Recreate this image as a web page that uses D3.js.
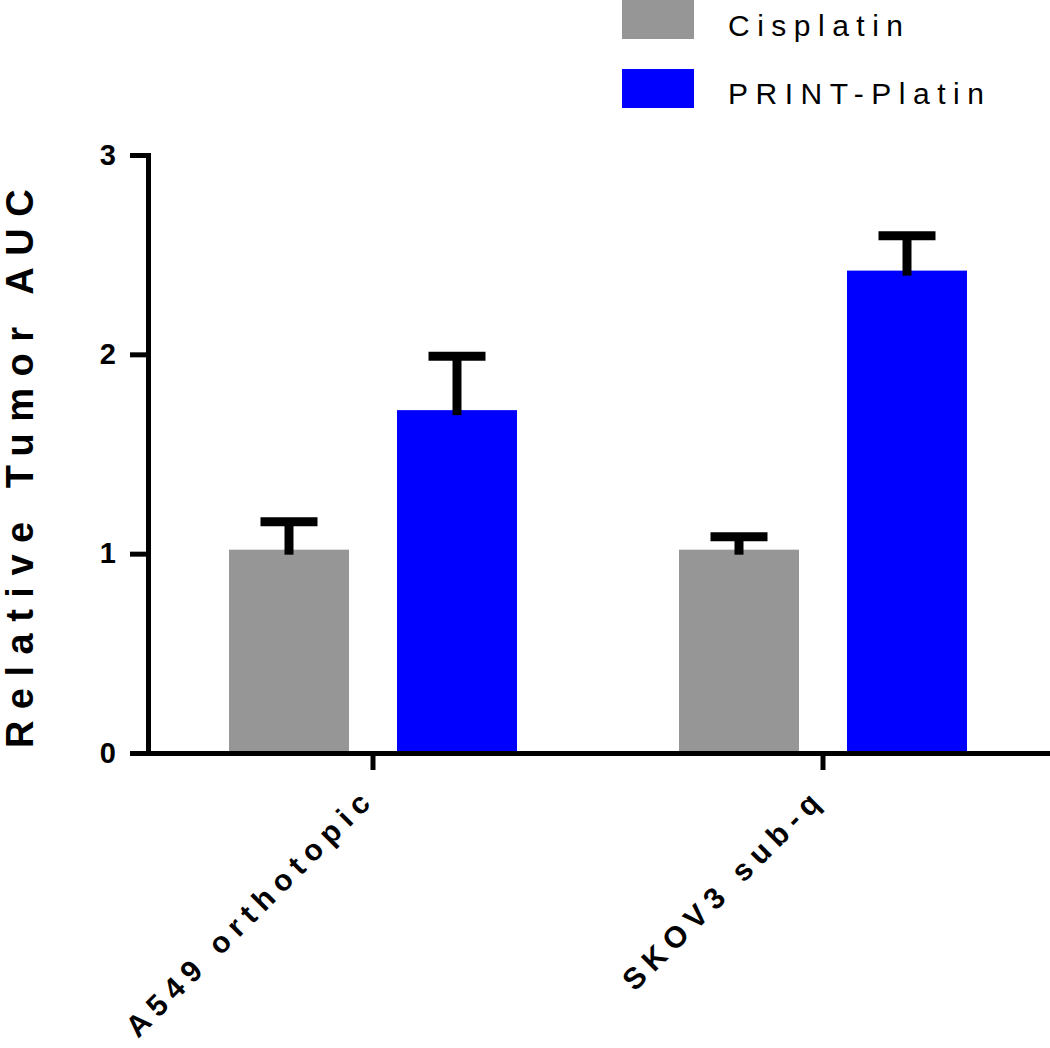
<!DOCTYPE html>
<html>
<head>
<meta charset="utf-8">
<script src="https://d3js.org/d3.v7.min.js"></script>
<style>
  body { margin: 0; background: #fff; }
  svg { font-family: "Liberation Sans", Arial, sans-serif; }
</style>
</head>
<body>
<svg id="chart" width="1050" height="1048"></svg>
<script>
// data
const categories = ["A549 orthotopic", "SKOV3 sub-q"];
const seriesNames = ["Cisplatin", "PRINT-Platin"];
const cisplatinMean = [1.02, 1.02];
const cisplatinErr = [0.14, 0.065];
const printMean = [1.72, 2.42];
const printErr = [0.27, 0.175];
const yTicks = [0, 1, 2, 3];

const colors = { "Cisplatin": "#969696", "PRINT-Platin": "#0000ff" };

const rows = [];
categories.forEach(function(c, i) {
  rows.push({ cat: c, series: "Cisplatin", mean: cisplatinMean[i], err: cisplatinErr[i] });
  rows.push({ cat: c, series: "PRINT-Platin", mean: printMean[i], err: printErr[i] });
});

const svg = d3.select("#chart");

var y = d3.scaleLinear().domain([0, 3]).range([753, 155]);
var x0 = d3.scaleBand().domain(categories).range([148, 1048]).padding(0);
var bw = x0.bandwidth();
var x1 = d3.scaleBand().domain(seriesNames)
  .range([bw / 2 - 192, bw / 2 + 192]).padding(0.2857);

// bars
svg.append("g").selectAll("rect")
  .data(rows)
  .enter()
  .append("rect")
  .attr("x", d => x0(d.cat) + x1(d.series))
  .attr("y", d => y(d.mean))
  .attr("width", x1.bandwidth())
  .attr("height", d => y(0) - y(d.mean))
  .style("fill", d => colors[d.series]);

// error bars (upper only)
var capHalf = 28.5;
var err = svg.append("g").selectAll("g")
  .data(rows)
  .enter()
  .append("g")
  .attr("transform", d => "translate(" + (x0(d.cat) + x1(d.series) + x1.bandwidth() / 2) + ",0)");
err.append("line")
  .attr("x1", 0).attr("x2", 0)
  .attr("y1", d => y(d.mean) + 5)
  .attr("y2", d => y(d.mean + d.err))
  .attr("stroke", "#000").attr("stroke-width", 9);
err.append("line")
  .attr("x1", -capHalf).attr("x2", capHalf)
  .attr("y1", d => y(d.mean + d.err))
  .attr("y2", d => y(d.mean + d.err))
  .attr("stroke", "#000").attr("stroke-width", 9);

// y axis
var yAxis = svg.append("g")
  .attr("transform", "translate(148,0)")
  .call(d3.axisLeft(y).tickValues(yTicks).tickFormat(d3.format("d"))
    .tickSize(18).tickSizeOuter(0).tickPadding(14));
yAxis.select(".domain").attr("stroke-width", 5).attr("stroke-linecap", "square");
yAxis.selectAll(".tick line").attr("stroke-width", 5);
yAxis.selectAll(".tick text")
  .style("font-family", "'Liberation Sans', Arial, sans-serif")
  .style("font-size", "29px").style("font-weight", "bold")
  .attr("fill", "#000");

// x axis
var xAxis = svg.append("g")
  .attr("transform", "translate(0,753)")
  .call(d3.axisBottom(x0).tickSize(17).tickSizeOuter(0).tickFormat(""));
xAxis.select(".domain").attr("stroke-width", 5).attr("stroke-linecap", "square");
xAxis.selectAll(".tick line").attr("stroke-width", 5);

// rotated category labels
svg.append("g").selectAll("text")
  .data(categories)
  .enter()
  .append("text")
  .attr("transform", d => "translate(" + (x0(d) + bw / 2 + 4) + ",800) rotate(-45)")
  .attr("text-anchor", "end")
  .style("font-size", "30px")
  .style("font-weight", "bold")
  .style("letter-spacing", "7.3px")
  .text(d => d);

// y title
svg.append("text")
  .attr("transform", "translate(33,463) rotate(-90)")
  .attr("text-anchor", "middle")
  .style("font-size", "38px")
  .style("font-weight", "bold")
  .style("letter-spacing", "11.5px")
  .text("Relative Tumor AUC");

// legend
var legend = svg.append("g");
legend.selectAll("rect")
  .data(seriesNames)
  .enter()
  .append("rect")
  .attr("x", 622)
  .attr("y", (d, i) => i * 69)
  .attr("width", 72)
  .attr("height", 39)
  .style("fill", d => colors[d]);
legend.selectAll("text")
  .data(seriesNames)
  .enter()
  .append("text")
  .attr("x", 728)
  .attr("y", (d, i) => 36 + i * 68)
  .style("font-size", "30px")
  .style("letter-spacing", "7.5px")
  .text(d => d);
</script>
</body>
</html>
